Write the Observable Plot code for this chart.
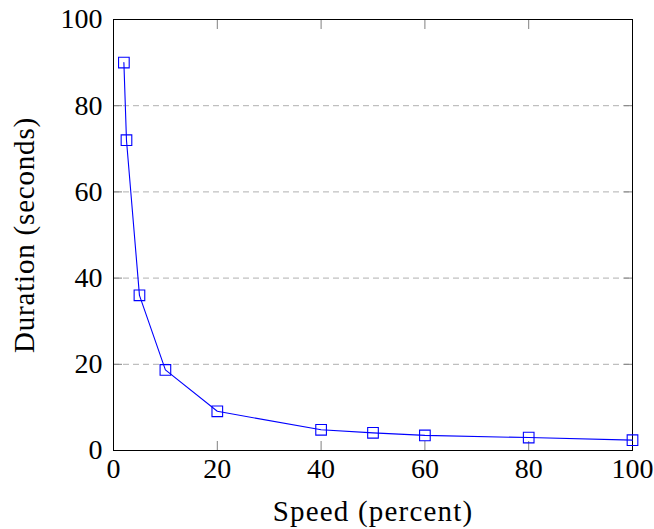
<!DOCTYPE html>
<html>
<head>
<meta charset="utf-8">
<script src="https://cdn.jsdelivr.net/npm/d3@7"></script>
<script src="https://cdn.jsdelivr.net/npm/@observablehq/plot@0.6"></script>
<style>
  html, body { margin: 0; padding: 0; background: #fff; }
  #chart svg { display: block; }
</style>
</head>
<body>
<div id="chart"></div>
<script>
const speed = [2, 2.5, 5, 10, 20, 40, 50, 60, 80, 100];
const duration = [90, 72, 36, 18.7, 9.1, 4.8, 4.1, 3.5, 3.0, 2.4];
const xTicks = [0, 20, 40, 60, 80, 100];
const yTicks = [0, 20, 40, 60, 80, 100];
const xLabel = "Speed (percent)";
const yLabel = "Duration (seconds)";

const data = speed.map((s, i) => ({speed: s, duration: duration[i]}));
const font = "'Liberation Serif', 'DejaVu Serif', serif";
const tickColor = "#808080";

const chart = Plot.plot({
  width: 654,
  height: 529,
  marginLeft: 113,
  marginRight: 22,
  marginTop: 19,
  marginBottom: 79,
  style: {fontFamily: font, fontSize: "28px", color: "#000", background: "#fff"},
  x: {domain: [0, 100]},
  y: {domain: [0, 100]},
  marks: [
    Plot.gridY(yTicks.slice(1, -1), {stroke: "#b0b0b0", strokeOpacity: 1, strokeDasharray: "6,4", strokeWidth: 1}),
    // inward ticks on all four sides
    Plot.axisX(xTicks, {anchor: "bottom", tickSize: -9, stroke: tickColor, tickFormat: () => "", label: null}),
    Plot.axisX(xTicks, {anchor: "top", tickSize: -9, stroke: tickColor, tickFormat: () => "", label: null}),
    Plot.axisY(yTicks, {anchor: "left", tickSize: -9, stroke: tickColor, tickFormat: () => "", label: null}),
    Plot.axisY(yTicks, {anchor: "right", tickSize: -9, stroke: tickColor, tickFormat: () => "", label: null}),
    // tick labels
    Plot.axisX(xTicks, {anchor: "bottom", tickSize: 0, tickPadding: 8, label: null, fontSize: 28, fill: "#000"}),
    Plot.axisY(yTicks, {anchor: "left", tickSize: 0, tickPadding: 11, label: null, fontSize: 28, fill: "#000"}),
    Plot.frame({stroke: "#000", strokeWidth: 1}),
    Plot.line(data, {x: "speed", y: "duration", stroke: "#0000ff", strokeWidth: 1.1}),
    Plot.dot(data, {x: "speed", y: "duration", symbol: "square", r: 6, stroke: "#0000ff", fill: "none", strokeWidth: 1.1}),
    Plot.text([xLabel], {text: d => d, frameAnchor: "bottom", textAnchor: "middle", lineAnchor: "bottom", dy: 70, fontSize: 29, fill: "#000"}),
    Plot.text([yLabel], {text: d => d, frameAnchor: "left", textAnchor: "middle", lineAnchor: "bottom", dx: -80, rotate: -90, fontSize: 29, fill: "#000"})
  ]
});
document.getElementById("chart").appendChild(chart);
// letter-spacing for axis titles to approximate Computer Modern widths
chart.querySelectorAll("text").forEach(t => {
  if (t.textContent === xLabel) t.style.letterSpacing = "1.2px";
  if (t.textContent === yLabel) t.style.letterSpacing = "0.8px";
});
</script>
</body>
</html>
